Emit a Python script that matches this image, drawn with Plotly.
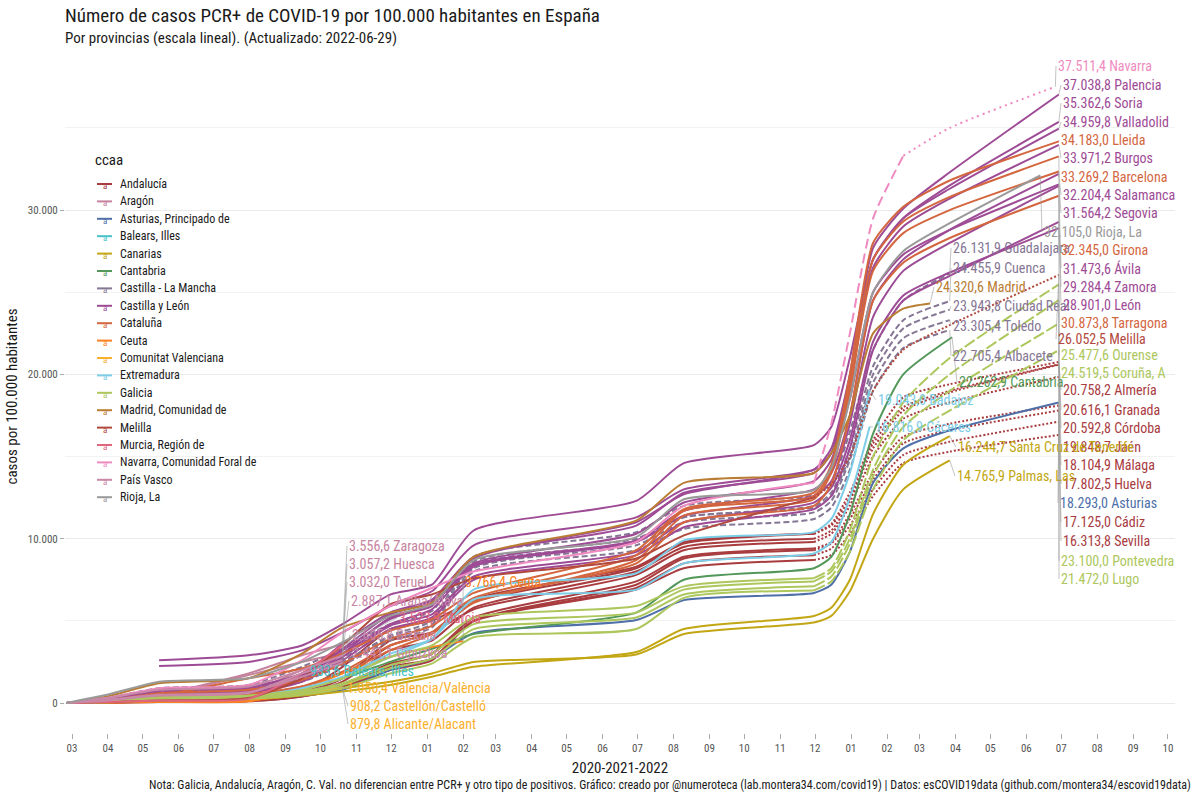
import plotly.graph_objects as go
from datetime import datetime, timedelta

# ---------------- data ----------------
ANCHORS = ["2020-02-25", "2020-03-31", "2020-05-15", "2020-07-31", "2020-09-15", "2020-10-20",
           "2020-11-30", "2021-01-05", "2021-02-10", "2021-06-30", "2021-08-10", "2021-11-30",
           "2021-12-15", "2021-12-31", "2022-01-20", "2022-02-15", "2022-03-27", "2022-06-29"]

CCAA = ["Andalucía", "Aragón", "Asturias, Principado de", "Balears, Illes", "Canarias", "Cantabria",
        "Castilla - La Mancha", "Castilla y León", "Cataluña", "Ceuta", "Comunitat Valenciana",
        "Extremadura", "Galicia", "Madrid, Comunidad de", "Melilla", "Murcia, Región de",
        "Navarra, Comunidad Foral de", "País Vasco", "Rioja, La"]

COLORS = ["#a93c3f", "#c6839e", "#4e6fa8", "#45c3c9", "#c2a614", "#53985a", "#857694", "#9e4b96",
          "#d4663f", "#fb8122", "#fbb02d", "#7ccde7", "#adc75d", "#b97d33", "#b2493e", "#e0667f",
          "#ef8bc0", "#c988a8", "#9a9a9a"]

andalucia = {
    "Almería":  [0, 30, 80, 200, 700, 1500, 3500, 4300, 6300, 8300, 9800, 10300, 10900, 12800, 16000, 18600, 19400, 20758.2],
    "Cádiz":    [0, 20, 60, 100, 400, 900, 2200, 2700, 5000, 7000, 8500, 9000, 9400, 10800, 13000, 15100, 15900, 17125.0],
    "Córdoba":  [0, 50, 150, 200, 500, 1300, 3200, 3800, 5800, 8000, 9500, 10000, 10500, 12300, 15500, 17800, 18900, 20592.8],
    "Granada":  [0, 60, 200, 250, 700, 2200, 4500, 5000, 6200, 8200, 9700, 10300, 10800, 12500, 15800, 18000, 19000, 20616.1],
    "Huelva":   [0, 20, 60, 120, 400, 900, 2000, 2600, 5000, 7200, 8800, 9300, 9700, 11200, 13600, 15800, 16600, 17802.5],
    "Jaén":     [0, 60, 200, 250, 550, 1500, 3800, 4300, 5700, 7800, 9300, 9800, 10300, 12000, 15000, 17300, 18300, 19848.7],
    "Málaga":   [0, 50, 150, 200, 500, 1000, 2300, 3000, 5200, 7400, 8900, 9400, 9800, 11500, 14000, 16200, 17000, 18104.9],
    "Sevilla":  [0, 40, 120, 170, 500, 1100, 2400, 3000, 5000, 6900, 8200, 8700, 9000, 10300, 12600, 14600, 15300, 16313.8],
}
aragon = {
    "Zaragoza": [0, 150, 500, 1800, 2900, 3556.6],
    "Huesca":   [0, 150, 450, 1700, 2500, 3057.2],
    "Teruel":   [0, 100, 400, 700, 2000, 3032.0],
}
asturias = {"Asturias": [0, 120, 250, 300, 450, 800, 2000, 2700, 4250, 5050, 6260, 6700, 7200, 9200, 13400, 15500, 16600, 18293.0]}
baleares = {"Balears, Illes": [0, 50, 150, 250, 700, 933.6]}
canarias = {
    "Santa Cruz de Tenerife": [0, 60, 150, 200, 450, 700, 1100, 1600, 2200, 3100, 4500, 5300, 5800, 7500, 11500, 14500, 16244.7],
    "Palmas, Las":            [0, 50, 120, 180, 500, 900, 1300, 1800, 2500, 2950, 4200, 4900, 5300, 6800, 10000, 13000, 14765.9],
}
cantabria = {"Cantabria": [0, 100, 300, 400, 900, 1500, 2500, 3300, 4200, 5500, 7500, 8200, 8900, 11500, 16400, 20000, 22262.9]}
clm = {
    "Albacete":    [0, 200, 600, 700, 1300, 2300, 3800, 4600, 8000, 9300, 10600, 11200, 11900, 14200, 19000, 21600, 22705.4],
    "Ciudad Real": [0, 300, 800, 900, 1600, 2500, 4100, 5000, 8400, 9800, 11300, 11900, 12600, 15000, 20000, 22800, 23943.8],
    "Cuenca":      [0, 200, 700, 800, 1500, 2700, 4400, 5200, 8600, 10000, 11300, 12000, 12800, 15500, 20500, 23300, 24455.9],
    "Guadalajara": [0, 300, 900, 1100, 2200, 3300, 4800, 5600, 8900, 10400, 12000, 12650, 13400, 16500, 21500, 24500, 26131.9],
    "Toledo":      [0, 250, 700, 800, 1500, 2500, 4000, 4800, 8200, 9600, 11000, 11600, 12300, 14800, 19500, 22200, 23305.4],
}
cyl = {
    "Ávila":      [0, 200, 850, 1000, 1700, 3000, 4800, 5700, 8300, 9800, 11400, 12600, 13500, 17000, 23500, 26300, 28000, 31473.6],
    "Burgos":     [0, 120, 450, 650, 1700, 3600, 5500, 6300, 8900, 10800, 12800, 14000, 15200, 19500, 26500, 29000, 30700, 33971.2],
    "León":       [0, 150, 550, 750, 1400, 2800, 4700, 5400, 7700, 9200, 11000, 12200, 13100, 16000, 22000, 24800, 26200, 28901.0],
    "Palencia":   [0, 150, 450, 600, 1300, 3000, 5200, 5900, 8800, 11000, 12700, 14200, 15500, 20000, 27700, 30100, 32300, 37038.8],
    "Salamanca":  [0, 250, 750, 900, 1800, 3200, 5100, 6000, 8400, 9900, 11700, 13000, 14000, 17500, 24500, 27000, 28800, 32204.4],
    "Segovia":    [2250, 2500, 3200, 4300, 5900, 6800, 9600, 11300, 13000, 14200, 15200, 18500, 25000, 27300, 28800, 31564.2],
    "Soria":      [2600, 2900, 3500, 4800, 6600, 7200, 10500, 12300, 14600, 15700, 16800, 21000, 27000, 29500, 31500, 35362.6],
    "Valladolid": [0, 200, 650, 800, 1600, 3300, 5400, 6200, 8500, 10300, 12200, 13500, 14800, 19000, 27000, 29500, 31300, 34959.8],
    "Zamora":     [0, 150, 550, 700, 1300, 2600, 4500, 5200, 7500, 9000, 10700, 11800, 12600, 15500, 21500, 24500, 26000, 29284.4],
}
cataluna = {
    "Barcelona": [0, 150, 600, 800, 1400, 2400, 3900, 4700, 6400, 9000, 11700, 12600, 14200, 19500, 27000, 29300, 30800, 33269.2],
    "Girona":    [0, 100, 400, 550, 1000, 1800, 3200, 4200, 6100, 8700, 11400, 12400, 14000, 19000, 26300, 28600, 30000, 32345.0],
    "Lleida":    [0, 80, 450, 1500, 2100, 3000, 4400, 5100, 6700, 9300, 11800, 12800, 14500, 20000, 28000, 30200, 31800, 34183.0],
    "Tarragona": [0, 80, 300, 450, 1000, 1900, 3500, 4300, 6200, 8500, 11000, 12000, 13300, 17500, 24500, 26800, 28300, 30873.8],
}
ceuta = {"Ceuta": [0, 20, 60, 100, 800, 1800, 2800, 3400, 3766.4]}
valenciana = {
    "Alicante/Alacant":   [0, 60, 180, 280, 550, 879.8],
    "Castellón/Castelló": [0, 80, 200, 300, 600, 908.2],
    "Valencia/València":  [0, 100, 250, 350, 700, 1050.4],
}
extremadura = {
    "Badajoz": [0, 80, 200, 300, 800, 1500, 2800, 3900, 6900, 7900, 9900, 10400, 11200, 14000, 19043.0],
    "Cáceres": [0, 120, 300, 400, 900, 1600, 3000, 3900, 6300, 6900, 8500, 9100, 9800, 12500, 16816.9],
}
galicia = {
    "Coruña, A":  [0, 80, 250, 350, 700, 1200, 2300, 3000, 4800, 5500, 6900, 7400, 8000, 10000, 14200, 17500, 20000, 24519.5],
    "Lugo":       [0, 50, 150, 250, 500, 900, 1800, 2400, 4000, 4500, 6400, 6850, 7400, 9200, 13000, 16000, 17800, 21472.0],
    "Ourense":    [0, 100, 350, 450, 800, 1500, 2800, 3500, 5200, 5900, 7100, 7600, 8200, 10500, 15000, 18300, 21000, 25477.6],
    "Pontevedra": [0, 60, 200, 300, 600, 1100, 2100, 2700, 4500, 5200, 6600, 7100, 7700, 9700, 13800, 16800, 19000, 23100.0],
}
madrid = {"Madrid": [0, 400, 1200, 1500, 3000, 4600, 5500, 6100, 8900, 11100, 13400, 14000, 15200, 17500, 22500, 24000, 24320.6]}
melilla = {"Melilla": [0, 50, 150, 300, 1500, 3500, 6000, 6600, 7600, 8800, 10200, 12500, 13300, 15000, 19000, 21500, 23000, 26052.5]}
murcia = {"Murcia": [0, 60, 150, 250, 1800, 3523.9]}
navarra = {"Navarra": [0, 300, 900, 1100, 2600, 4300, 5900, 7000, 8000, 9800, 12000, 13400, 17000, 22500, 29500, 33300, 35000, 37511.4]}
pais_vasco = {
    "Araba/Álava": [0, 300, 800, 1000, 2000, 2887.1],
    "Bizkaia":     [0, 150, 450, 600, 1800, 2605.8],
    "Gipuzkoa":    [0, 200, 500, 650, 1600, 2441.1],
}
rioja = {"Rioja, La": [0, 500, 1300, 1500, 2500, 3700, 5300, 6000, 8700, 10100, 12400, 12950, 14300, 18500, 25000, 27500, 29200, 32105.0]}

DATA_BY_CCAA = [andalucia, aragon, asturias, baleares, canarias, cantabria, clm, cyl, cataluna, ceuta,
                valenciana, extremadura, galicia, madrid, melilla, murcia, navarra, pais_vasco, rioja]

START_IDX = {"Segovia": 2, "Soria": 2}
END_DATE = {"Ceuta": "2021-02-01", "Badajoz": "2022-01-17", "Cáceres": "2022-01-17",
            "Madrid": "2022-03-10", "Cantabria": "2022-03-29", "Navarra": "2022-06-26",
            "Rioja, La": "2022-06-13"}

# ---------------- styles / layout helpers ----------------
DASH = {
    "Andalucía": [(0, "solid"), (11, "2px,2px")],
    "Castilla - La Mancha": [(0, "6px,3px")],
    "Galicia": [(0, "solid"), (11, "12px,3px")],
    "Melilla": [(0, "solid"), (11, "2px,2px")],
    "Navarra, Comunidad Foral de": [(0, "solid"), (11, "10px,5px"), (15, "2px,4px")],
}

# label placements (pixel positions of text: left edge, vertical centre)
LABEL_PX = {
    "Navarra": (1056, 66), "Palencia": (1061, 85), "Soria": (1061, 103), "Valladolid": (1061, 122),
    "Lleida": (1059, 140), "Burgos": (1061, 158), "Barcelona": (1059, 177), "Salamanca": (1061, 195),
    "Segovia": (1061, 213), "Rioja, La": (1042, 232), "Girona": (1059, 250), "Ávila": (1061, 268),
    "Zamora": (1061, 287), "León": (1061, 305), "Tarragona": (1059, 323), "Melilla": (1056, 339),
    "Ourense": (1059, 355), "Coruña, A": (1059, 373), "Almería": (1061, 390), "Granada": (1061, 410),
    "Córdoba": (1061, 428), "Jaén": (1061, 447), "Málaga": (1061, 465), "Huelva": (1061, 484),
    "Asturias": (1058, 503), "Cádiz": (1061, 522), "Sevilla": (1061, 541), "Pontevedra": (1059, 561),
    "Lugo": (1059, 579),
    "Guadalajara": (951, 248), "Cuenca": (951, 268), "Madrid": (934, 287), "Ciudad Real": (951, 306),
    "Toledo": (951, 326), "Albacete": (951, 356), "Cantabria": (957, 382), "Badajoz": (876, 400),
    "Cáceres": (873, 427), "Santa Cruz de Tenerife": (956, 447), "Palmas, Las": (955, 476),
    "Zaragoza": (347, 546), "Huesca": (347, 564), "Teruel": (347, 582), "Araba/Álava": (349, 601),
    "Murcia": (397, 618), "Bizkaia": (350, 635), "Gipuzkoa": (350, 653), "Balears, Illes": (308, 671),
    "Valencia/València": (345, 688), "Castellón/Castelló": (348, 706), "Alicante/Alacant": (348, 724),
    "Ceuta": (463, 582),
}

FONT = "Roboto Condensed, Liberation Sans Narrow, Arial Narrow, Roboto, sans-serif"

ORIGIN = datetime(2020, 3, 1)
PX_PER_DAY = 1.161
X0PX = 72
Y0PX = 703
PX_PER_UNIT = 0.01643
PLOT_L, PLOT_R, PLOT_T, PLOT_B = 65, 1175, 60, 733
PW, PH = PLOT_R - PLOT_L, PLOT_B - PLOT_T


def xpx(d):
    return X0PX + (datetime.fromisoformat(d) - ORIGIN).total_seconds() / 86400 * PX_PER_DAY


def ypx(v):
    return Y0PX - v * PX_PER_UNIT


def px_to_date(p):
    return (ORIGIN + timedelta(days=(p - X0PX) / PX_PER_DAY)).strftime("%Y-%m-%d %H:%M")


def xp(p):
    return (p - PLOT_L) / PW


def yp(p):
    return (PLOT_B - p) / PH


def fmt_es(v):
    s = f"{v:,.1f}"
    return s.replace(",", "X").replace(".", ",").replace("X", ".")


fig = go.Figure()
annotations = []
shapes = []

for ccaa, col, group in zip(CCAA, COLORS, DATA_BY_CCAA):
    rules = DASH.get(ccaa, [(0, "solid")])
    for prov, vals in group.items():
        s = START_IDX.get(prov, 0)
        pts = []
        for i, v in enumerate(vals):
            idx = s + i
            d = ANCHORS[idx]
            if i == len(vals) - 1 and prov in END_DATE:
                d = END_DATE[prov]
            pts.append((idx, d, v))
        for k, (a, dash) in enumerate(rules):
            b = rules[k + 1][0] if k + 1 < len(rules) else 999
            seg = [p for p in pts if a <= p[0] <= b]
            if len(seg) < 2:
                continue
            fig.add_trace(go.Scatter(
                x=[p[1] for p in seg], y=[p[2] for p in seg], mode="lines",
                line=dict(color=col, width=2, dash=dash, shape="spline", smoothing=0.6),
                showlegend=False, name=prov, hoverinfo="name+y"))
        # end label
        _, d_end, v_end = pts[-1]
        lx, ly = LABEL_PX[prov]
        annotations.append(dict(
            x=d_end, y=v_end, xref="x", yref="y",
            text=f"{fmt_es(v_end)} {prov}", showarrow=True, arrowhead=0, arrowwidth=0.6,
            arrowcolor="#9a9a9a", standoff=0, startstandoff=0,
            ax=lx - xpx(d_end), ay=ly - ypx(v_end), axref="pixel", ayref="pixel",
            xanchor="left", yanchor="middle",
            font=dict(family=FONT, size=14, color=col)))

# manual legend (ggplot style)
LEG_TOP, LEG_STEP = 184, 17.4
annotations.append(dict(text="ccaa", xref="paper", yref="paper", x=xp(93), y=yp(160),
                        xanchor="left", yanchor="middle", showarrow=False,
                        font=dict(family=FONT, size=15, color="#1a1a1a")))
for i, (ccaa, col) in enumerate(zip(CCAA, COLORS)):
    yy = LEG_TOP + i * LEG_STEP
    shapes.append(dict(type="line", xref="paper", yref="paper", x0=xp(97), x1=xp(112),
                       y0=yp(yy), y1=yp(yy), line=dict(color=col, width=2)))
    annotations.append(dict(text="a", xref="paper", yref="paper", x=xp(104.5), y=yp(yy + 2),
                            xanchor="center", yanchor="middle", showarrow=False,
                            font=dict(family=FONT, size=9, color=col)))
    annotations.append(dict(text=ccaa, xref="paper", yref="paper", x=xp(118), y=yp(yy),
                            xanchor="left", yanchor="middle", showarrow=False,
                            font=dict(family=FONT, size=12, color="#1a1a1a")))

x_range = [px_to_date(PLOT_L), px_to_date(PLOT_R)]
y_range = [(Y0PX - PLOT_B) / PX_PER_UNIT, (Y0PX - PLOT_T) / PX_PER_UNIT]

annotations += [
    dict(text="Número de casos PCR+ de COVID-19 por 100.000 habitantes en España", xref="paper", yref="paper",
         x=xp(63), y=yp(15), xanchor="left", yanchor="middle",
         showarrow=False, font=dict(family=FONT, size=19, color="#1a1a1a")),
    dict(text="Por provincias (escala lineal). (Actualizado: 2022-06-29)", xref="paper", yref="paper",
         x=xp(63), y=yp(38), xanchor="left", yanchor="middle",
         showarrow=False, font=dict(family=FONT, size=15, color="#1a1a1a")),
    dict(text="Nota: Galicia, Andalucía, Aragón, C. Val. no diferencian entre PCR+ y otro tipo de positivos. "
              "Gráfico: creado por @numeroteca (lab.montera34.com/covid19) | Datos: esCOVID19data (github.com/montera34/escovid19data)",
         xref="paper", yref="paper", x=xp(1193), y=yp(785),
         xanchor="right", yanchor="middle", showarrow=False, font=dict(family=FONT, size=12, color="#1a1a1a")),
]

fig.update_layout(
    width=1200, height=800,
    margin=dict(l=PLOT_L, r=1200 - PLOT_R, t=PLOT_T, b=800 - PLOT_B),
    paper_bgcolor="white", plot_bgcolor="white",
    separators=",.",
    font=dict(family=FONT, color="#444"),
    showlegend=False,
    annotations=annotations,
    shapes=shapes,
    xaxis=dict(range=x_range, type="date", tick0="2020-03-01", dtick="M1", tickformat="%m",
               showgrid=False, zeroline=False, showline=False,
               ticks="outside", ticklen=5, tickcolor="#aaa", tickwidth=1,
               tickfont=dict(family=FONT, size=11, color="#555"),
               title=dict(text="2020-2021-2022", font=dict(family=FONT, size=15, color="#1a1a1a"), standoff=8)),
    yaxis=dict(range=y_range, tickvals=[0, 10000, 20000, 30000], tickformat=",d",
               showgrid=True, gridcolor="#ebebeb", gridwidth=1, zeroline=False, showline=False,
               minor=dict(tickvals=[5000, 15000, 25000, 35000], showgrid=True, gridcolor="#f2f2f2", ticks=""),
               ticks="outside", ticklen=4, tickcolor="#aaa",
               tickfont=dict(family=FONT, size=11, color="#555"),
               title=dict(text="casos por 100.000 habitantes", font=dict(family=FONT, size=15, color="#1a1a1a"), standoff=6)),
)

fig.write_html("out.html")
